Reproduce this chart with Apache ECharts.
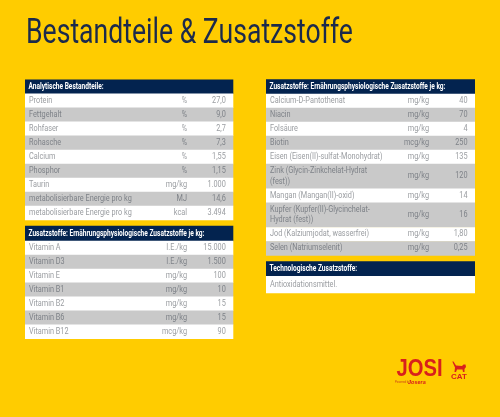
<!DOCTYPE html>
<html><head><meta charset="utf-8">
<style>html,body{margin:0;padding:0;background:#FFCC00}#c{width:500px;height:417px}</style>
<script src="https://cdn.jsdelivr.net/npm/echarts@6/dist/echarts.min.js"></script></head>
<body><div id="c"></div>
<script>
const titleText = 'Bestandteile & Zusatzstoffe';
const analyticHeader = 'Analytische Bestandteile:';
const analyticNames = ['Protein','Fettgehalt','Rohfaser','Rohasche','Calcium','Phosphor','Taurin','metabolisierbare Energie pro kg','metabolisierbare Energie pro kg'];
const analyticUnits = ['%','%','%','%','%','%','mg/kg','MJ','kcal'];
const analyticValues = ['27,0','9,0','2,7','7,3','1,55','1,15','1.000','14,6','3.494'];
const vitaminHeader = 'Zusatzstoffe: Ernährungsphysiologische Zusatzstoffe je kg:';
const vitaminNames = ['Vitamin A','Vitamin D3','Vitamin E','Vitamin B1','Vitamin B2','Vitamin B6','Vitamin B12'];
const vitaminUnits = ['I.E./kg','I.E./kg','mg/kg','mg/kg','mg/kg','mg/kg','mcg/kg'];
const vitaminValues = ['15.000','1.500','100','10','15','15','90'];
const mineralHeader = 'Zusatzstoffe: Ernährungsphysiologische Zusatzstoffe je kg:';
const mineralNames = ['Calcium-D-Pantothenat','Niacin','Folsäure','Biotin','Eisen (Eisen(II)-sulfat-Monohydrat)','Zink (Glycin-Zinkchelat-Hydrat\n(fest))','Mangan (Mangan(II)-oxid)','Kupfer (Kupfer(II)-Glycinchelat-\nHydrat (fest))','Jod (Kalziumjodat, wasserfrei)','Selen (Natriumselenit)'];
const mineralUnits = ['mg/kg','mg/kg','mg/kg','mcg/kg','mg/kg','mg/kg','mg/kg','mg/kg','mg/kg','mg/kg'];
const mineralValues = ['40','70','4','250','135','120','14','16','1,80','0,25'];
const techHeader = 'Technologische Zusatzstoffe:';
const techNames = ['Antioxidationsmittel.'];
const techUnits = [''];
const techValues = [''];

const NAVY='#03234F', YEL='#FFCC00', GREY='#C9C9C9', WHITE='#FFFFFF', RED='#D8201C';
const FONT='Roboto';
const layout=[
 {x0:25,x1:233.3,top:79.5,headH:14,rowH:14.04,hd:analyticHeader,n:analyticNames,u:analyticUnits,v:analyticValues},
 {x0:25,x1:233.3,top:225.8,headH:15,rowH:13.94,hd:vitaminHeader,n:vitaminNames,u:vitaminUnits,v:vitaminValues},
 {x0:266,x1:475,top:79.3,headH:14.4,rowH:14,dbl:24.8,hd:mineralHeader,n:mineralNames,u:mineralUnits,v:mineralValues},
 {x0:266,x1:475,top:261.3,headH:14.7,rowH:16.7,hd:techHeader,n:techNames,u:techUnits,v:techValues}
];
const rows=[];
layout.forEach((t,ti)=>{
  let y=t.top;
  rows.push({ti,head:true,y0:y,y1:y+t.headH}); y+=t.headH;
  t.n.forEach((name,i)=>{
    const h=name.includes('\n')?t.dbl:t.rowH;
    rows.push({ti,i,y0:y,y1:y+h,stripe:i%2===1}); y+=h;
  });
});
function txt(x,y,sx,style){
  return {type:'text',x:x,y:y,scaleX:sx,style:Object.assign({x:0,y:0,textVerticalAlign:'middle'},style)};
}
function renderRow(params,api){
  const r=rows[api.value(0)], t=layout[r.ti];
  const a=api.coord([t.x0,r.y0]), b=api.coord([t.x1,r.y1]);
  const cy=(a[1]+b[1])/2;
  const kids=[{type:'rect',shape:{x:a[0],y:a[1],width:b[0]-a[0],height:b[1]-a[1]+0.5},style:{fill:r.head?NAVY:(r.stripe?GREY:WHITE)}}];
  if(r.head){
    kids.push(txt(a[0]+3.5,cy,0.73,{text:t.hd,fill:'#fff',fontFamily:FONT,fontWeight:'bold',fontSize:9,textAlign:'left'}));
  }else{
    const col=r.stripe?'#7E8288':'#9A9DA1';
    const base={fill:col,fontFamily:FONT,fontSize:8.8};
    kids.push(txt(a[0]+4,cy,0.83,Object.assign({text:t.n[r.i],textAlign:'left',lineHeight:10.8},base)));
    if(t.u[r.i]) kids.push(txt(a[0]+(r.ti<2?162:163),cy,0.83,Object.assign({text:t.u[r.i],textAlign:'right'},base)));
    if(t.v[r.i]) kids.push(txt(b[0]-7.5,cy,0.83,Object.assign({text:t.v[r.i],textAlign:'right'},base)));
  }
  return {type:'group',children:kids};
}
const chart=echarts.init(document.getElementById('c'),null,{renderer:'canvas',width:500,height:417});
chart.setOption({
  animation:false,
  backgroundColor:YEL,
  grid:{left:0,right:0,top:0,bottom:0},
  xAxis:{type:'value',min:0,max:500,show:false},
  yAxis:{type:'value',min:0,max:417,inverse:true,show:false},
  series:[{type:'custom',renderItem:renderRow,data:rows.map((r,i)=>[i]),encode:{x:-1,y:-1},silent:true,clip:false}],
  graphic:[
    {type:'text',x:26,y:34,scaleX:0.76,silent:true,style:{text:titleText,x:0,y:0,textVerticalAlign:'middle',fontFamily:FONT,fontWeight:400,fontSize:35,fill:'#1B2A4C'}},
    {type:'text',x:396.5,y:370,scaleX:0.88,silent:true,style:{text:'JOSI',x:0,y:0,textVerticalAlign:'middle',fontFamily:'Liberation Sans',fontWeight:'bold',fontSize:23,fill:RED}},
    {type:'text',x:451,y:376.3,silent:true,style:{text:'CAT',x:0,y:0,textVerticalAlign:'middle',fontFamily:'Liberation Sans',fontWeight:'bold',fontSize:8,fill:RED}},
    {type:'text',x:395,y:382.5,silent:true,style:{text:'Powered by',x:0,y:0,textVerticalAlign:'middle',fontFamily:'Liberation Sans',fontSize:2.8,fill:'#C83A1A'}},
    {type:'text',x:408,y:382.5,silent:true,style:{text:'Josera',x:0,y:0,textVerticalAlign:'middle',fontFamily:'Liberation Sans',fontStyle:'italic',fontWeight:'bold',fontSize:5.5,fill:RED}},
    {type:'polygon',silent:true,shape:{points:[[452.3,361.5],[453.5,361.5],[456,365.5],[462,366],[463.5,364.5],[465.5,364.5],[466,367],[464.5,369],[464.5,372],[463,372],[462.5,369.5],[457,369.5],[456,372],[454.5,372],[455,367.5]]},style:{fill:RED}}
  ]
});
</script></body></html>
